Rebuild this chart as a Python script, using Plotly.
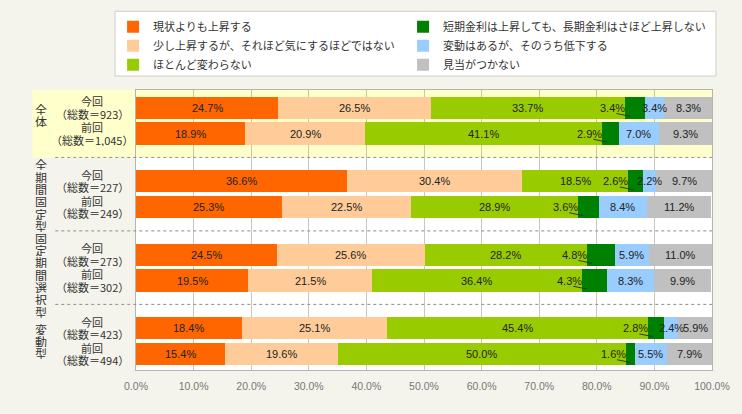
import plotly.graph_objects as go

# ---------------- data ----------------
series_names = [
    "現状よりも上昇する",
    "少し上昇するが、それほど気にするほどではない",
    "ほとんど変わらない",
    "短期金利は上昇しても、長期金利はさほど上昇しない",
    "変動はあるが、そのうち低下する",
    "見当がつかない",
]
series_colors = ["#FF6600", "#FFCC99", "#99CC00", "#008000", "#99CCFF", "#C0C0C0"]
series_legend = ["legend", "legend", "legend", "legend2", "legend2", "legend2"]

groups = ["全体", "全期間固定型", "固定期間選択型", "変動型"]
row_period = ["今回", "前回", "今回", "前回", "今回", "前回", "今回", "前回"]
row_total = ["923", "1,045", "227", "249", "273", "302", "423", "494"]

v_rise = [24.7, 18.9, 36.6, 25.3, 24.5, 19.5, 18.4, 15.4]
v_slight = [26.5, 20.9, 30.4, 22.5, 25.6, 21.5, 25.1, 19.6]
v_same = [33.7, 41.1, 18.5, 28.9, 28.2, 36.4, 45.4, 50.0]
v_short = [3.4, 2.9, 2.6, 3.6, 4.8, 4.3, 2.8, 1.6]
v_down = [3.4, 7.0, 2.2, 8.4, 5.9, 8.3, 2.4, 5.5]
v_unknown = [8.3, 9.3, 9.7, 11.2, 11.0, 9.9, 5.9, 7.9]
series_values = [v_rise, v_slight, v_same, v_short, v_down, v_unknown]

x_ticks = [0, 10, 20, 30, 40, 50, 60, 70, 80, 90, 100]
x_tick_labels = ["0.0%", "10.0%", "20.0%", "30.0%", "40.0%", "50.0%",
                 "60.0%", "70.0%", "80.0%", "90.0%", "100.0%"]

# ---------------- layout helpers ----------------
GROUP_STEP = 2.85
row_y = [g * GROUP_STEP + i for g in range(len(groups)) for i in range(2)]
Y_TOP, Y_BOT = -0.69, 10.17
L, R, T, B = 136, 28, 89, 44
W, H = 742, 414
PW = W - L - R
PH = H - T - B


def px_x(px):
    return (px - L) / PW


def px_y(px):
    return (H - B - px) / PH


fig = go.Figure()
for name, color, leg, vals in zip(series_names, series_colors, series_legend, series_values):
    fig.add_trace(go.Bar(
        x=vals, y=row_y, orientation="h", name=name, width=0.87,
        marker=dict(color=color, line=dict(width=0)),
        legend=leg, hoverinfo="skip",
    ))

annotations = []
shapes = []

# yellow background for the first group
shapes.append(dict(type="rect", xref="paper", yref="y", x0=px_x(32), x1=1,
                   y0=Y_TOP, y1=GROUP_STEP - 0.925, fillcolor="#FFFFCC",
                   line=dict(width=0), layer="below"))
# dotted separators
for g in range(len(groups) - 1):
    ys = g * GROUP_STEP + 1.925
    shapes.append(dict(type="line", xref="paper", yref="y", x0=px_x(55), x1=1,
                       y0=ys, y1=ys, line=dict(color="#8c8c8c", width=1, dash="dot"),
                       layer="above"))

# legend box
shapes.append(dict(type="rect", xref="paper", yref="paper",
                   x0=px_x(115), x1=px_x(718), y0=px_y(75), y1=px_y(10),
                   fillcolor="white", line=dict(color="#cfcfc8", width=1), layer="below"))

# bar value labels
lab_font = dict(family="Liberation Sans, Arial", size=11, color="#222")
for r, y in enumerate(row_y):
    cum = 0.0
    for s, vals in enumerate(series_values):
        v = vals[r]
        if s == 3:
            annotations.append(dict(x=cum, y=y, xref="x", yref="y", text=f"{v:.1f}%",
                                    showarrow=False, xanchor="right", xshift=2,
                                    font=lab_font))
            shapes.append(dict(type="line", xref="x", yref="y",
                               x0=cum - 1.5, y0=y + 0.22, x1=cum + 0.9, y1=y + 0.33,
                               line=dict(color="#333", width=1), layer="above"))
        else:
            annotations.append(dict(x=cum + v / 2, y=y, xref="x", yref="y",
                                    text=f"{v:.1f}%", showarrow=False,
                                    xanchor="center", font=lab_font))
        cum += v

# row labels
row_font = dict(family="Noto Sans CJK JP", size=11, color="#333")
for r, y in enumerate(row_y):
    annotations.append(dict(x=px_x(92), y=y, xref="paper", yref="y",
                            text=row_period[r], showarrow=False, yshift=6.5,
                            xanchor="center", height=12, borderpad=0, font=row_font))
    annotations.append(dict(x=px_x(92), y=y, xref="paper", yref="y",
                            text=f"（総数＝{row_total[r]}）", showarrow=False,
                            yshift=-6, xanchor="center", height=12, borderpad=0,
                            font=row_font))

# vertical group labels
grp_font = dict(family="Noto Sans CJK JP", size=12, color="#333")
grp_shift = [5.5, -1, -7, 0]
for g, name in enumerate(groups):
    yc = g * GROUP_STEP + 0.5
    n = len(name)
    for i, ch in enumerate(name):
        annotations.append(dict(x=px_x(41), y=yc, xref="paper", yref="y", text=ch,
                                showarrow=False, xanchor="center", height=12,
                                borderpad=0,
                                yshift=grp_shift[g] - (i - (n - 1) / 2) * 12.3,
                                font=grp_font))

leg_font = dict(family="Noto Sans CJK JP", size=11, color="#333")
fig.update_layout(
    width=W, height=H, margin=dict(l=L, r=R, t=T, b=B),
    paper_bgcolor="#f5f4ec", plot_bgcolor="white",
    barmode="stack", hovermode=False,
    shapes=shapes, annotations=annotations,
    legend=dict(orientation="v", x=px_x(113), xanchor="left",
                y=px_y(11), yanchor="top", bgcolor="rgba(0,0,0,0)", borderwidth=0,
                font=leg_font, traceorder="normal"),
    legend2=dict(orientation="v", x=px_x(404), xanchor="left",
                 y=px_y(11), yanchor="top", bgcolor="rgba(0,0,0,0)", borderwidth=0,
                 font=leg_font, traceorder="normal"),
    xaxis=dict(range=[0, 100], tickvals=x_ticks, ticktext=x_tick_labels,
               showgrid=True, gridcolor="rgba(130,130,110,0.45)", gridwidth=1,
               showline=True, linecolor="#b4b4b4", mirror=True, zeroline=False,
               ticks="outside", ticklen=6, tickcolor="rgba(0,0,0,0)",
               tickfont=dict(family="Liberation Sans, Arial", size=10.5,
                             color="#777")),
    yaxis=dict(range=[Y_BOT, Y_TOP], showticklabels=False, showgrid=False,
               zeroline=False, showline=True, linecolor="#b4b4b4", mirror=True),
)

fig.write_html("out.html")
